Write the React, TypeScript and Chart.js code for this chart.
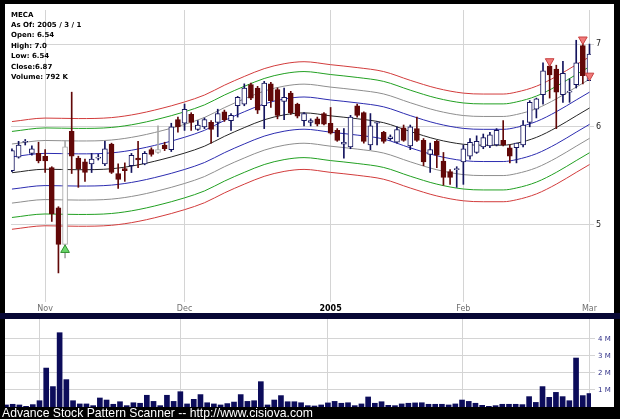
import React, { useEffect, useRef } from "react";
import { Chart, registerables } from "chart.js";

Chart.register(...registerables);
Chart.defaults.font.family = "'DejaVu Sans', sans-serif";

// Daily sessions, Oct 25 2004 .. Mar 1 2005 (array index = session number)
const opens = [
  5.53, 5.67, 5.83, 5.71, 5.71, 5.68, 5.56, 5.16, 4.82, 5.95,
  5.66, 5.62, 5.6, 5.66, 5.6, 5.81, 5.5, 5.55, 5.58, 5.66,
  5.6, 5.75, 5.72, 5.8, 5.75, 6.08, 6.04, 6.14, 5.97, 6.0,
  6.05, 6.05, 6.17, 6.07, 6.24, 6.26, 6.49, 6.45, 6.24, 6.5,
  6.43, 6.29, 6.39, 6.26, 6.07, 6.05, 6.09, 6.15, 6.04, 5.96,
  5.81, 5.78, 6.24, 6.16, 5.8, 6.04, 5.94, 5.87, 5.83, 5.99,
  5.79, 5.98, 5.85, 5.7, 5.84, 5.63, 5.52, 5.54, 5.62, 5.68,
  5.72, 5.78, 5.79, 5.8, 5.85, 5.77, 5.77, 5.8, 6.05, 6.2,
  6.37, 6.72, 6.68, 6.37, 6.4, 6.49, 6.98, 6.54,
];
const highs = [
  5.76, 5.84, 5.86, 5.79, 5.83, 5.75, 5.57, 5.17, 5.85, 6.4,
  5.68, 5.65, 5.71, 5.7, 5.84, 5.82, 5.6, 5.61, 5.71, 5.84,
  5.73, 5.77, 6.01, 5.83, 6.04, 6.11, 6.26, 6.16, 6.07, 6.1,
  6.07, 6.2, 6.19, 6.15, 6.35, 6.5, 6.51, 6.47, 6.53, 6.52,
  6.45, 6.45, 6.41, 6.27, 6.16, 6.09, 6.11, 6.16, 6.22, 5.98,
  5.98, 6.13, 6.26, 6.17, 6.15, 6.06, 5.95, 5.91, 6.0, 6.02,
  6.02, 6.11, 5.87, 5.82, 5.85, 5.72, 5.54, 5.57, 5.8, 5.87,
  5.9, 5.92, 5.94, 5.98, 6.07, 5.8, 5.82, 6.07, 6.3, 6.33,
  6.76, 6.78, 6.73, 6.78, 6.56, 7.05, 7.02, 7.0,
];
const lows = [
  5.52, 5.66, 5.8, 5.69, 5.61, 5.51, 5.03, 4.57, 4.7, 5.5,
  5.36, 5.42, 5.51, 5.64, 5.58, 5.5, 5.35, 5.42, 5.51, 5.56,
  5.59, 5.68, 5.71, 5.74, 5.73, 5.94, 5.96, 5.96, 5.96, 5.98,
  5.82, 5.89, 6.06, 5.96, 6.11, 6.24, 6.31, 6.15, 5.98, 6.22,
  6.09, 6.08, 6.14, 6.1, 6.01, 6.01, 6.01, 6.02, 5.92, 5.84,
  5.66, 5.76, 6.11, 5.82, 5.75, 5.8, 5.82, 5.85, 5.82, 5.84,
  5.75, 5.84, 5.58, 5.51, 5.56, 5.38, 5.39, 5.36, 5.39, 5.65,
  5.71, 5.76, 5.77, 5.79, 5.79, 5.61, 5.61, 5.78, 6.0, 6.1,
  6.26, 6.33, 5.98, 6.28, 6.28, 6.45, 6.5, 6.54,
];
const closes = [
  5.74, 5.8, 5.84, 5.76, 5.63, 5.63, 5.1, 4.82, 5.78, 5.68,
  5.55, 5.51, 5.65, 5.67, 5.76, 5.51, 5.44, 5.53, 5.69, 5.64,
  5.71, 5.7, 5.75, 5.76, 6.0, 6.0, 6.2, 6.05, 6.02, 6.08,
  5.97, 6.15, 6.08, 6.13, 6.34, 6.45, 6.33, 6.19, 6.51, 6.3,
  6.13, 6.34, 6.16, 6.12, 6.15, 6.07, 6.03, 6.03, 5.93, 5.85,
  5.83, 6.11, 6.13, 5.84, 6.01, 6.05, 5.84, 5.89, 5.97, 5.85,
  6.0, 5.85, 5.62, 5.75, 5.69, 5.46, 5.46, 5.55, 5.76, 5.83,
  5.84, 5.88, 5.91, 5.96, 5.8, 5.68, 5.82, 6.02, 6.28, 6.32,
  6.66, 6.61, 6.4, 6.63, 6.41, 6.76, 6.6, 6.87,
];
// Volume in millions of shares
const volumesM = [
  0.12, 0.16, 0.12, 0.04, 0.14, 0.37, 2.29, 1.2, 4.37, 1.61,
  0.37, 0.18, 0.18, 0.08, 0.53, 0.41, 0.16, 0.31, 0.08, 0.25,
  0.22, 0.69, 0.33, 0.08, 0.69, 0.33, 0.9, 0.18, 0.45, 0.73,
  0.25, 0.18, 0.12, 0.2, 0.29, 0.73, 0.33, 0.37, 1.49, 0.12,
  0.41, 0.67, 0.31, 0.31, 0.25, 0.08, 0.06, 0.12, 0.24, 0.33,
  0.22, 0.25, 0.08, 0.18, 0.59, 0.22, 0.31, 0.1, 0.08, 0.18,
  0.22, 0.24, 0.25, 0.16, 0.16, 0.16, 0.12, 0.18, 0.41, 0.33,
  0.22, 0.1, 0.04, 0.08, 0.16, 0.16, 0.16, 0.14, 0.61, 0.27,
  1.2, 0.57, 0.86, 0.61, 0.37, 2.88, 0.67, 0.792,
];

// Smoothed centre line of the envelope, sampled at a few sessions
const centerIdx = [0, 5, 10, 15, 19, 24, 26, 29, 32, 35, 38, 41, 44, 48, 52, 56, 60, 64, 68, 71, 74, 76, 79, 82, 85, 87];
const centerPrice = [
  5.508, 5.544, 5.539, 5.549, 5.589, 5.672, 5.713, 5.787, 5.894, 5.991,
  6.079, 6.135, 6.158, 6.124, 6.091, 6.046, 5.948, 5.861, 5.808, 5.798,
  5.798, 5.819, 5.883, 5.991, 6.124, 6.214,
];
// Envelope bands, percent above / below the centre line
const envelopePct = [3, 5.5, 8, 10];
const envelopeColors = ["#2c2cb0", "#8e8e8e", "#22a022", "#d23c3c"];

const tickIdx = [5, 26, 48, 68, 87];
const tickText = ["Nov", "Dec", "2005", "Feb", "Mar"];
const priceTicks = [5, 6, 7];
const volumeTicks = [1, 2, 3, 4];

const buyIdx = [8];
const buyPrice = [4.77];
const sellIdx = [81, 86, 87];
const sellPrice = [6.78, 7.06, 6.6];
const mutedIdx = [8, 22];

const symbol = "MECA";
const asOf = "2005 / 3 / 1";

const NAVY = "#14145e";
const MAROON = "#620808";
const MUTED = "#a8a8a8";
const GRID = "#d4d4d4";

const X_MIN = -0.144;
const X_MAX = 87.228;
const Y_MIN = 4.3532;
const Y_MAX = 7.459;

const fmt = (v: number) => {
  const s = v.toFixed(2);
  return s.endsWith("0") ? v.toFixed(1) : s;
};

// keep the plot area flush with the canvas edges
const noPad = (s: any) => {
  s.paddingTop = 0;
  s.paddingBottom = 0;
  s.paddingLeft = 0;
  s.paddingRight = 0;
};

export default function App() {
  const mainRef = useRef<HTMLCanvasElement>(null);
  const volRef = useRef<HTMLCanvasElement>(null);

  useEffect(() => {
    const n = opens.length;
    const idx = Array.from({ length: n }, (_, i) => i);
    const up = idx.map((i) => closes[i] >= opens[i]);
    const edge = idx.map((i) => (mutedIdx.includes(i) ? MUTED : up[i] ? NAVY : MAROON));

    const bandSets: any[] = [];
    const pcts = [...envelopePct].reverse();
    pcts.forEach((p, k) => {
      bandSets.push({
        type: "line",
        data: centerIdx.map((x, j) => ({ x, y: centerPrice[j] * (1 + p / 100) })),
        borderColor: envelopeColors[envelopeColors.length - 1 - k],
      });
    });
    bandSets.push({
      type: "line",
      data: centerIdx.map((x, j) => ({ x, y: centerPrice[j] })),
      borderColor: "#262626",
    });
    envelopePct.forEach((p, k) => {
      bandSets.push({
        type: "line",
        data: centerIdx.map((x, j) => ({ x, y: centerPrice[j] * (1 - p / 100) })),
        borderColor: envelopeColors[k],
      });
    });
    bandSets.forEach((d) => {
      d.borderWidth = 1;
      d.pointRadius = 0;
      d.cubicInterpolationMode = "monotone";
      d.order = 5;
    });

    const main = new Chart(mainRef.current!, {
      type: "bar",
      data: {
        datasets: [
          ...bandSets,
          {
            type: "bar",
            data: idx.map((i) => ({ x: i, y: [lows[i], highs[i]] })),
            backgroundColor: edge,
            barThickness: 1,
            grouped: false,
            order: 2,
          },
          {
            type: "bar",
            data: idx.map((i) => ({ x: i, y: [opens[i], closes[i]] })),
            backgroundColor: idx.map((i) => (up[i] ? "#ffffff" : MAROON)),
            borderColor: edge,
            borderWidth: 1,
            borderSkipped: false,
            barThickness: 5,
            minBarLength: 1,
            grouped: false,
            order: 1,
          },
          {
            type: "line",
            data: buyIdx.map((x, j) => ({ x, y: buyPrice[j] })),
            showLine: false,
            pointStyle: "triangle",
            pointRadius: 5,
            backgroundColor: "#6ad66a",
            borderColor: "#2f8f2f",
            borderWidth: 1,
            clip: false,
            order: 0,
          },
          {
            type: "line",
            data: sellIdx.map((x, j) => ({ x, y: sellPrice[j] })),
            showLine: false,
            pointStyle: "triangle",
            pointRotation: 180,
            pointRadius: 5,
            backgroundColor: "#f07a7a",
            borderColor: "#c84040",
            borderWidth: 1,
            clip: false,
            order: 0,
          },
        ] as any,
      },
      options: {
        responsive: false,
        animation: false,
        events: [],
        layout: { padding: 0 },
        plugins: { legend: { display: false }, tooltip: { enabled: false } },
        scales: {
          x: {
            type: "linear",
            min: X_MIN,
            max: X_MAX,
            offset: false,
            grid: { color: GRID, offset: false, drawTicks: true, tickLength: 3 },
            border: { display: false },
            afterBuildTicks: (s: any) => {
              s.ticks = tickIdx.map((value) => ({ value }));
            },
            afterFit: (s: any) => {
              s.height = 14;
              noPad(s);
            },
            ticks: {
              autoSkip: false,
              maxRotation: 0,
              padding: 2,
              callback: (v: any) => tickText[tickIdx.indexOf(Number(v))] ?? "",
              color: (c: any) => (c.tick && c.tick.value === 48 ? "#000000" : "#6e6e6e"),
              font: (c: any) =>
                c.tick && c.tick.value === 48 ? { size: 8, weight: "bold" } : { size: 8 },
            },
          },
          y: {
            type: "logarithmic",
            position: "right",
            min: Y_MIN,
            max: Y_MAX,
            grid: { color: GRID, drawTicks: true, tickLength: 3 },
            border: { display: false },
            afterBuildTicks: (s: any) => {
              s.ticks = priceTicks.map((value) => ({ value }));
            },
            afterFit: (s: any) => {
              s.width = 23;
              noPad(s);
            },
            ticks: {
              padding: 2,
              color: "#222222",
              font: { size: 8 },
              callback: (v: any) => String(v),
            },
          },
        },
      } as any,
    });

    const vol = new Chart(volRef.current!, {
      type: "bar",
      data: {
        datasets: [
          {
            data: idx.map((i) => ({ x: i, y: volumesM[i] })),
            backgroundColor: "#0c0c5a",
            barThickness: 5,
            grouped: false,
          },
        ] as any,
      },
      options: {
        responsive: false,
        animation: false,
        events: [],
        layout: { padding: 0 },
        plugins: { legend: { display: false }, tooltip: { enabled: false } },
        scales: {
          x: {
            type: "linear",
            min: X_MIN,
            max: X_MAX,
            offset: false,
            grid: { color: GRID, offset: false, drawTicks: false },
            border: { display: false },
            afterBuildTicks: (s: any) => {
              s.ticks = tickIdx.map((value) => ({ value }));
            },
            afterFit: (s: any) => {
              s.height = 0;
              noPad(s);
            },
            ticks: { display: false },
          },
          y: {
            type: "linear",
            position: "right",
            min: 0,
            max: 5.176,
            grid: { color: GRID, drawTicks: true, tickLength: 4 },
            border: { display: false },
            afterBuildTicks: (s: any) => {
              s.ticks = volumeTicks.map((value) => ({ value }));
            },
            afterFit: (s: any) => {
              s.width = 23;
              noPad(s);
            },
            ticks: {
              padding: 3,
              color: "#2e2e86",
              font: { size: 7 },
              callback: (v: any) => `${v} M`,
            },
          },
        },
      } as any,
    });

    return () => {
      main.destroy();
      vol.destroy();
    };
  }, []);

  const last = opens.length - 1;
  const info = [
    symbol,
    `As Of: ${asOf}`,
    `Open: ${fmt(opens[last])}`,
    `High: ${fmt(highs[last])}`,
    `Low: ${fmt(lows[last])}`,
    `Close:${fmt(closes[last])}`,
    `Volume: ${Math.round(volumesM[last] * 1000)} K`,
  ];

  return (
    <div
      style={{
        position: "fixed",
        left: 0,
        top: 0,
        width: 620,
        height: 419,
        background: "#000000",
        overflow: "hidden",
      }}
    >
      <div style={{ position: "absolute", left: 5, top: 4, width: 609, height: 309, background: "#ffffff" }}>
        <canvas ref={mainRef} width={609} height={309} style={{ display: "block", width: 609, height: 309 }} />
        <div
          style={{
            position: "absolute",
            left: 6,
            top: 5.5,
            font: "bold 7px 'DejaVu Sans', sans-serif",
            lineHeight: "10.4px",
            color: "#000000",
            whiteSpace: "nowrap",
          }}
        >
          {info.map((t) => (
            <div key={t}>{t}</div>
          ))}
        </div>
      </div>
      <div style={{ position: "absolute", left: 0, top: 313, width: 620, height: 6, background: "#070734" }} />
      <div style={{ position: "absolute", left: 5, top: 319, width: 609, height: 88, background: "#ffffff" }}>
        <canvas ref={volRef} width={609} height={88} style={{ display: "block", width: 609, height: 88 }} />
      </div>
      <div
        style={{
          position: "absolute",
          left: 2,
          top: 407,
          color: "#ffffff",
          font: "12.2px 'Liberation Sans', Arial, sans-serif",
          lineHeight: "12px",
          whiteSpace: "nowrap",
        }}
      >
        Advance Stock Pattern Scanner -- http://www.cisiova.com
      </div>
    </div>
  );
}
